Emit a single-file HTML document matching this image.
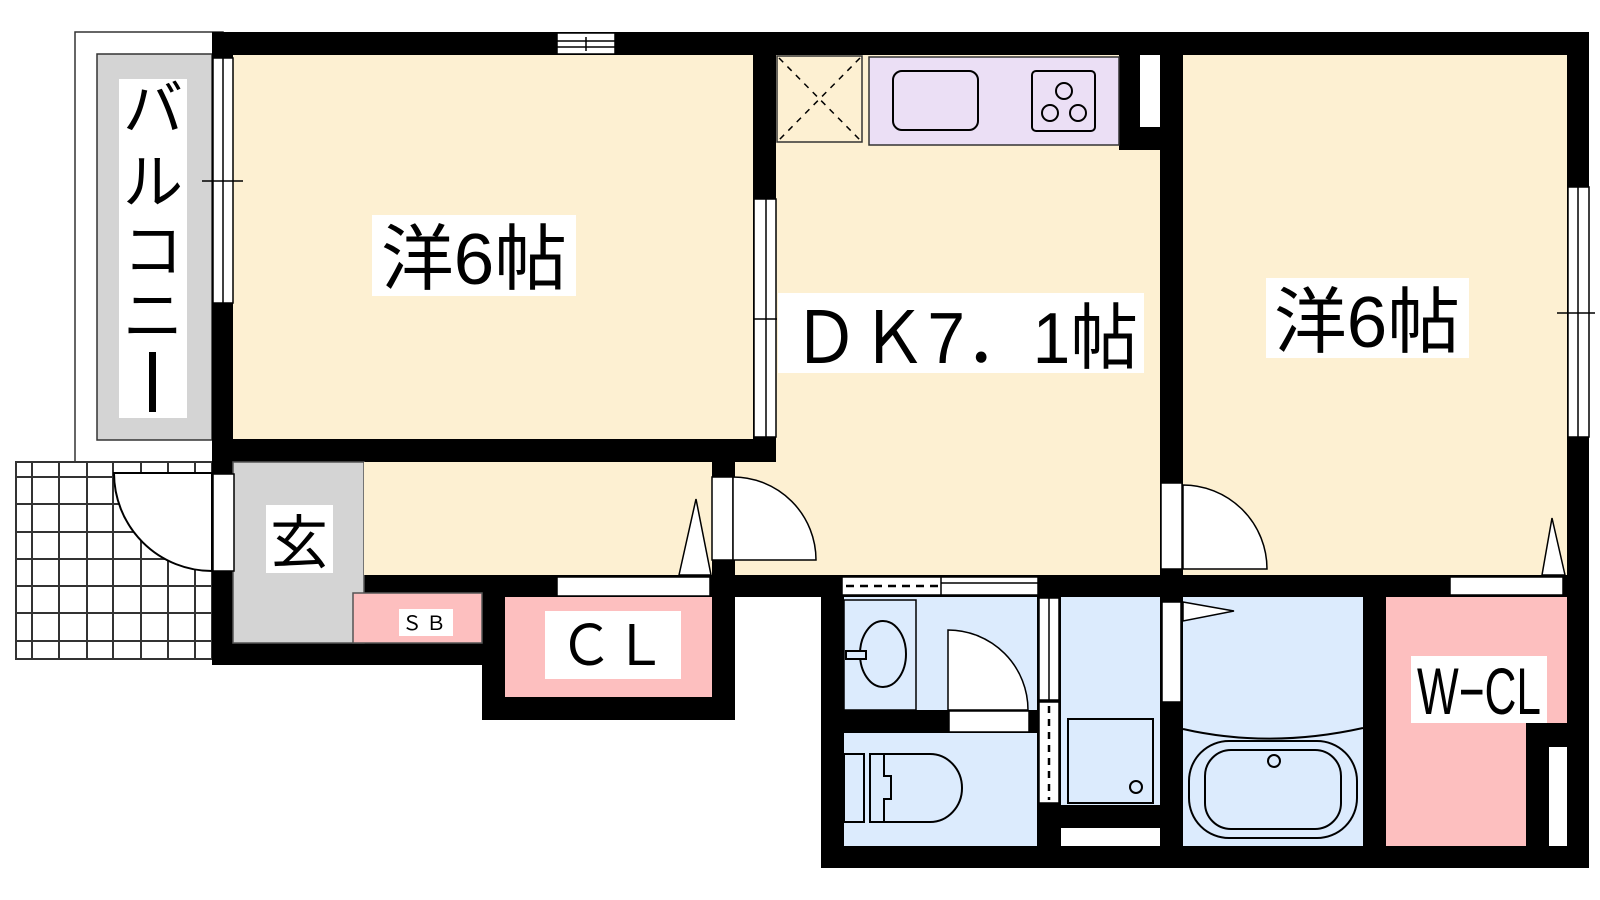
<!DOCTYPE html>
<html><head><meta charset="utf-8"><style>
html,body{margin:0;padding:0;background:#fff;width:1600px;height:900px;overflow:hidden}
svg{display:block}
text{font-family:"Liberation Sans","Noto Sans CJK JP",sans-serif;fill:#000}
</style></head><body>
<svg width="1600" height="900" viewBox="0 0 1600 900" xmlns="http://www.w3.org/2000/svg">
<!-- balcony -->
<rect x="75" y="32" width="148" height="430" fill="#fff" stroke="#333" stroke-width="1.5"/>
<rect x="97" y="54" width="115" height="386" fill="#d4d4d4" stroke="#333" stroke-width="1.5"/>
<rect x="119" y="79" width="68" height="339" fill="#fff"/>
<g font-size="60" text-anchor="middle">
<text x="153" y="130">バ</text>
<text x="153" y="203">ル</text>
<text x="153" y="272">コ</text>
<text x="153" y="337">ニ</text>
</g>
<rect x="149" y="352" width="7" height="60" fill="#000"/>

<!-- tile grid -->
<rect x="16" y="462" width="196" height="197" fill="#fff" stroke="#333" stroke-width="2"/>
<g stroke="#333" stroke-width="2">
<line x1="32" y1="462" x2="32" y2="659"/><line x1="59" y1="462" x2="59" y2="659"/>
<line x1="87" y1="462" x2="87" y2="659"/><line x1="113" y1="462" x2="113" y2="659"/>
<line x1="141" y1="462" x2="141" y2="659"/><line x1="168" y1="462" x2="168" y2="659"/>
<line x1="195" y1="462" x2="195" y2="659"/>
<line x1="16" y1="477" x2="212" y2="477"/><line x1="16" y1="504" x2="212" y2="504"/>
<line x1="16" y1="532" x2="212" y2="532"/><line x1="16" y1="559" x2="212" y2="559"/>
<line x1="16" y1="586" x2="212" y2="586"/><line x1="16" y1="613" x2="212" y2="613"/>
<line x1="16" y1="641" x2="212" y2="641"/>
</g>
<path d="M212,473 L114,473 A98,98 0 0 0 212,571 Z" fill="#fff" stroke="#000" stroke-width="2"/>

<!-- black wall masses -->
<rect x="212" y="32" width="1377" height="565" fill="#000"/>
<rect x="212" y="440" width="523" height="225" fill="#000"/>
<rect x="482" y="575" width="253" height="145" fill="#000"/>
<rect x="821" y="575" width="768" height="293" fill="#000"/>

<!-- room 1 -->
<rect x="233" y="55" width="520" height="384" fill="#fdf0d2"/>
<!-- DK -->
<rect x="776" y="55" width="384" height="520" fill="#fdf0d2"/>
<rect x="735" y="462" width="45" height="113" fill="#fdf0d2"/>
<rect x="1119" y="55" width="41" height="95" fill="#000"/>
<rect x="1140" y="55" width="20" height="72" fill="#fff"/>
<!-- room 3 -->
<rect x="1183" y="55" width="384" height="520" fill="#fdf0d2"/>

<!-- genkan / hall -->
<rect x="233" y="462" width="131" height="181" fill="#d4d4d4" stroke="#555" stroke-width="1.5"/>
<rect x="364" y="462" width="348" height="113" fill="#fdf0d2"/>
<rect x="353" y="593" width="129" height="50" fill="#fdbfbf" stroke="#555" stroke-width="1.5"/>
<rect x="505" y="597" width="207" height="100" fill="#fdbfbf"/>

<!-- wet area -->
<rect x="844" y="597" width="193" height="113" fill="#dcebfd"/>
<rect x="844" y="733" width="193" height="113" fill="#dcebfd"/>
<rect x="1061" y="597" width="99" height="208" fill="#dcebfd"/>
<rect x="1061" y="828" width="99" height="18" fill="#fff"/>
<rect x="1183" y="597" width="180" height="249" fill="#dcebfd"/>
<!-- W-CL -->
<rect x="1386" y="597" width="181" height="249" fill="#fdbfbf"/>
<rect x="1526" y="723" width="41" height="123" fill="#000"/>
<rect x="1549" y="747" width="18" height="99" fill="#fff"/>

<!-- windows -->
<g stroke="#000" stroke-width="1.5" fill="#fff">
<rect x="213" y="58" width="20" height="245"/>
<line x1="223" y1="58" x2="223" y2="303"/>
<line x1="202" y1="181" x2="243" y2="181"/>
<rect x="557" y="33" width="58" height="21"/>
<line x1="557" y1="41" x2="615" y2="41"/><line x1="557" y1="47" x2="615" y2="47"/>
<line x1="586" y1="37" x2="586" y2="51"/>
<rect x="754" y="199" width="22" height="238"/>
<line x1="766" y1="199" x2="766" y2="437"/>
<line x1="753" y1="319" x2="777" y2="319"/>
<rect x="1568" y="187" width="21" height="250"/>
<line x1="1578" y1="187" x2="1578" y2="437"/>
<line x1="1557" y1="313" x2="1595" y2="313"/>
<!-- entrance door opening -->
<rect x="213" y="474" width="21" height="97"/>
<!-- hall door -->
<rect x="712" y="477" width="21" height="83"/>
<path d="M733,560 L733,477 A83,83 0 0 1 816,560 Z"/>
<!-- room3 door -->
<rect x="1161" y="483" width="21" height="86"/>
<path d="M1183,569 L1183,485 A84,84 0 0 1 1267,569 Z"/>
<!-- CL door -->
<rect x="557" y="577" width="153" height="19"/>
<path d="M679,575 L696,499 L711,575 Z"/>
<!-- W-CL door -->
<rect x="1450" y="577" width="113" height="18"/>
<path d="M1542,575 L1552,518 L1565,575 Z"/>
<!-- wash sliding -->
<rect x="842" y="577" width="196" height="18"/>
<line x1="941" y1="583" x2="1038" y2="583"/>
<line x1="941" y1="577" x2="941" y2="595"/>
<!-- wash door -->
<rect x="949" y="711" width="80" height="21"/>
<path d="M948,710 L948,630 A80,80 0 0 1 1028,710 Z"/>
<!-- laundry doors -->
<rect x="1039" y="598" width="20" height="102"/>
<line x1="1049" y1="598" x2="1049" y2="700"/>
<rect x="1039" y="702" width="20" height="101"/>
<rect x="1162" y="602" width="19" height="100"/>
<path d="M1183,602 L1234,611 L1183,621 Z"/>
</g>
<line x1="846" y1="586" x2="938" y2="586" stroke="#000" stroke-width="2.5" stroke-dasharray="8,6"/>
<line x1="1049" y1="706" x2="1049" y2="800" stroke="#000" stroke-width="2.5" stroke-dasharray="7,6"/>

<!-- kitchen -->
<rect x="777" y="56" width="85" height="86" fill="#fdf0d2" stroke="#333" stroke-width="1.5"/>
<g stroke="#000" stroke-width="1.5" stroke-dasharray="6,6">
<line x1="779" y1="58" x2="860" y2="140"/><line x1="860" y1="58" x2="779" y2="140"/>
</g>
<rect x="869" y="57" width="250" height="88" fill="#ebdff5" stroke="#333" stroke-width="1.5"/>
<rect x="893" y="71" width="85" height="59" rx="9" fill="none" stroke="#000" stroke-width="2"/>
<rect x="1032" y="71" width="63" height="60" rx="4" fill="none" stroke="#000" stroke-width="2"/>
<g fill="none" stroke="#000" stroke-width="2">
<circle cx="1064" cy="91" r="8"/><circle cx="1050" cy="113" r="8"/><circle cx="1078" cy="113" r="8"/>
</g>

<!-- wet fixtures -->
<g fill="none" stroke="#000" stroke-width="2">
<rect x="844" y="600" width="72" height="110" stroke-width="1.5"/>
<ellipse cx="883" cy="654" rx="23" ry="33"/>
<rect x="846" y="651" width="20" height="8" fill="#dcebfd"/>
<rect x="1068" y="719" width="85" height="84"/>
<circle cx="1136" cy="787" r="6"/>
<path d="M1183,729 C1240,742 1300,742 1363,728"/>
<rect x="1189" y="741" width="168" height="97" rx="40"/>
<rect x="1205" y="750" width="136" height="79" rx="26"/>
<circle cx="1274" cy="761" r="6"/>
<rect x="844" y="754" width="20" height="68"/>
<path d="M870,754 L930,754 A32,34 0 0 1 930,822 L870,822 Z"/>
<path d="M884,754 L884,776 L891,776 L891,799 L884,799 L884,822"/>
</g>

<!-- labels -->
<rect x="372" y="215" width="204" height="81" fill="#fff"/>
<text x="474" y="284" font-size="72" text-anchor="middle" textLength="186" lengthAdjust="spacingAndGlyphs">洋6帖</text>
<rect x="778" y="293" width="366" height="80" fill="#fff"/>
<text x="792" y="363" font-size="72" textLength="346" lengthAdjust="spacingAndGlyphs">ＤＫ7．1帖</text>
<rect x="1266" y="278" width="203" height="80" fill="#fff"/>
<text x="1367" y="347" font-size="72" text-anchor="middle" textLength="186" lengthAdjust="spacingAndGlyphs">洋6帖</text>
<rect x="266" y="505" width="67" height="68" fill="#fff"/>
<text x="299" y="563" font-size="58" text-anchor="middle">玄</text>
<rect x="399" y="609" width="54" height="27" fill="#fff"/>
<text x="426" y="630" font-size="20" text-anchor="middle" letter-spacing="4">ＳＢ</text>
<rect x="545" y="611" width="136" height="68" fill="#fff"/>
<text x="613" y="665" font-size="56" text-anchor="middle" textLength="108" lengthAdjust="spacingAndGlyphs">ＣＬ</text>
<rect x="1411" y="656" width="136" height="67" fill="#fff"/>
<text x="1479" y="714" font-size="66" text-anchor="middle" textLength="124" lengthAdjust="spacingAndGlyphs">W−CL</text>
</svg>
</body></html>
